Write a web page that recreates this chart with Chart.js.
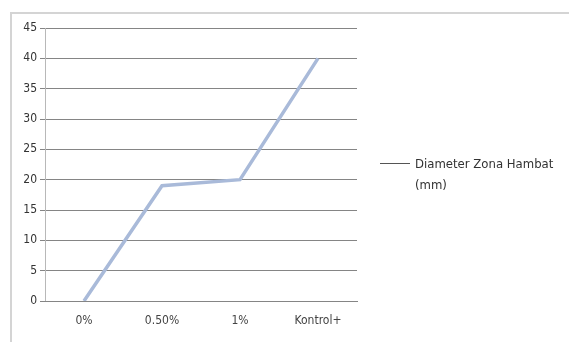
<!DOCTYPE html>
<html>
<head>
<meta charset="utf-8">
<script src="https://cdn.jsdelivr.net/npm/chart.js@4.4.1/dist/chart.umd.min.js"></script>
<style>
  html, body { margin: 0; padding: 0; background: #fff; }
  #wrap { position: relative; width: 569px; height: 342px; overflow: hidden; }
  #frame {
    position: absolute; left: 10px; top: 12px; width: 600px; height: 400px;
    border-top: 2px solid #d4d4d4; border-left: 2px solid #d4d4d4;
  }
  #legend {
    position: absolute; left: 380px; top: 153px;
    font: 13px "DejaVu Sans Condensed", "Liberation Sans Narrow", sans-serif;
    color: #333; line-height: 21px;
  }
  #legend .swatch {
    position: absolute; left: 0; top: 10px; width: 30px; height: 0;
    border-top: 1px solid #555;
  }
  #legend .text { margin-left: 35px; }
</style>
</head>
<body>
<div id="wrap">
  <div id="frame"></div>
  <canvas id="chart" width="569" height="342"></canvas>
  <div id="legend"><span class="swatch"></span><div class="text">Diameter Zona Hambat<br>(mm)</div></div>
</div>
<script>
// data
const categories = ["0%", "0.50%", "1%", "Kontrol+"];
const diameterValues = [0, 19, 20, 40];
const yTicks = [0, 5, 10, 15, 20, 25, 30, 35, 40, 45];

const labelFont = { family: "'DejaVu Sans Condensed', 'Liberation Sans Narrow', sans-serif", size: 12 };

const ctx = document.getElementById("chart").getContext("2d");
new Chart(ctx, {
  type: "line",
  data: {
    labels: categories,
    datasets: [
      {
        label: "Diameter Zona Hambat (mm)",
        data: diameterValues,
        borderColor: "#a9bad9",
        borderWidth: 3.5,
        pointRadius: 0,
        tension: 0,
        fill: false,
      },
    ],
  },
  options: {
    responsive: false,
    animation: false,
    layout: { padding: { left: 10, right: 212, top: 28, bottom: 0 } },
    plugins: {
      legend: { display: false },
      tooltip: { enabled: false },
    },
    scales: {
      y: {
        min: 0,
        max: 45,
        afterBuildTicks: (scale) => {
          scale.ticks = yTicks.map((v) => ({ value: v }));
        },
        afterFit: (scale) => {
          scale.width = 35;
        },
        grid: {
          color: "#858585",
          lineWidth: 1,
          tickLength: 5,
        },
        border: { display: true, color: "#b8b8b8" },
        ticks: {
          color: "#333",
          font: labelFont,
          padding: 3,
        },
      },
      x: {
        offset: true,
        afterFit: (scale) => {
          scale.height = 41;
        },
        grid: { display: false },
        border: { display: true, color: "#858585" },
        ticks: {
          color: "#444",
          font: labelFont,
          padding: 5,
        },
      },
    },
  },
});
</script>
</body>
</html>
